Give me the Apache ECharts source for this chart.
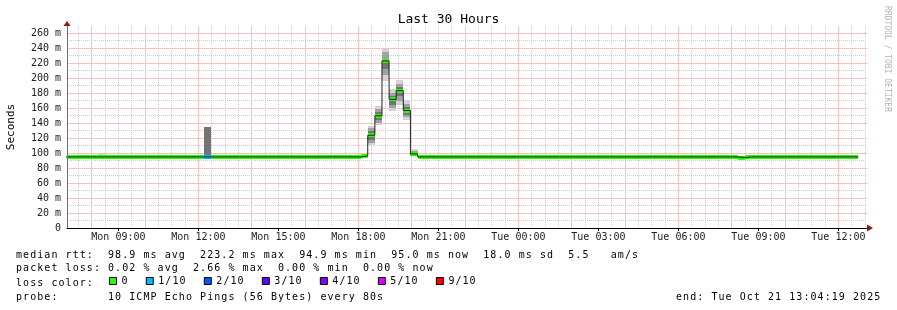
<!DOCTYPE html>
<html><head><meta charset="utf-8">
<script src="https://cdn.jsdelivr.net/npm/echarts@6/dist/echarts.min.js"></script>
<style>html,body{margin:0;padding:0;background:#fff}#c{width:897px;height:310px}</style>
</head><body><div id="c"></div>
<script>
// ---- data (time in hours since Mon 00:00) ----
const xMin = 7 + 4 / 60 + 19 / 3600;      // Mon 07:04:19
const xMax = xMin + 30;                    // Tue 13:04:19
const firstSampleStart = 6 + 53 / 60;      // first 16-min sample start
const stepHours = 16 / 60;
const tickHours = [9, 12, 15, 18, 21, 24, 27, 30, 33, 36];
const tickLabels = ['Mon 09:00', 'Mon 12:00', 'Mon 15:00', 'Mon 18:00', 'Mon 21:00',
  'Tue 00:00', 'Tue 03:00', 'Tue 06:00', 'Tue 09:00', 'Tue 12:00'];
const yLabelValues = [0, 20, 40, 60, 80, 100, 120, 140, 160, 180, 200, 220, 240, 260];
const yMajorLines = [20, 40, 60, 80, 100, 120, 140, 160, 180, 200, 220, 240, 260];
const yMinorLines = [10, 30, 50, 70, 90, 110, 130, 150, 170, 190, 210, 230, 250];
const xMajorLines = [8, 10, 12, 14, 16, 18, 20, 22, 24, 26, 28, 30, 32, 34, 36];
const xMinorLines = [7.5, 8.5, 9, 9.5, 10.5, 11, 11.5, 12.5, 13, 13.5, 14.5, 15, 15.5, 16.5, 17, 17.5,
  18.5, 19, 19.5, 20.5, 21, 21.5, 22.5, 23, 23.5, 24.5, 25, 25.5, 26.5, 27, 27.5, 28.5, 29, 29.5,
  30.5, 31, 31.5, 32.5, 33, 33.5, 34.5, 35, 35.5, 36.5, 37];

// median rtt per 16-min sample (ms)
const median = [
  95, 95, 95, 95, 95, 95, 95, 95, 95, 95, 95, 95, 95, 95, 95, 95,
  95, 95, 95, 95, 95, 95, 95, 95, 95, 95, 95, 95, 95, 95, 95, 95,
  95, 95, 95, 95, 95, 95, 95, 95, 95, 95, 96.3, 124, 150, 223.2, 172, 183.5,
  157, 99, 95, 95, 95, 95, 95, 95, 95, 95, 95, 95, 95, 95, 95, 95,
  95, 95, 95, 95, 95, 95, 95, 95, 95, 95, 95, 95, 95, 95, 95, 95,
  95, 95, 95, 95, 95, 95, 95, 95, 95, 95, 95, 95, 95, 95, 95, 94.2,
  95, 95, 95, 95, 95, 95, 95, 95, 95, 95, 95, 95, 95, 95, 95, 95
];
// loss level index per sample (0 -> "0", 1 -> "1/10", ...)
const lossLevel = [
  0, 0, 0, 0, 0, 0, 0, 0, 0, 0, 0, 0, 0, 0, 0, 0,
  0, 0, 0, 0, 1, 0, 0, 0, 0, 0, 0, 0, 0, 0, 0, 0,
  0, 0, 0, 0, 0, 0, 0, 0, 0, 0, 0, 0, 0, 0, 0, 0,
  0, 0, 0, 0, 0, 0, 0, 0, 0, 0, 0, 0, 0, 0, 0, 0,
  0, 0, 0, 0, 0, 0, 0, 0, 0, 0, 0, 0, 0, 0, 0, 0,
  0, 0, 0, 0, 0, 0, 0, 0, 0, 0, 0, 0, 0, 0, 0, 0,
  0, 0, 0, 0, 0, 0, 0, 0, 0, 0, 0, 0, 0, 0, 0, 0
];
// smoke (ping spread) for samples that show it
const smokeSample = [5, 20, 43, 44, 45, 46, 47, 48, 49];
const outerLo = [95, null, 111, 138, 196, 156, 165, 145, 96.5];
const outerHi = [98.5, null, 137, 163, 239, 186, 198, 171, 105];
const midLo = [null, null, 114, 141, 205, 160, 170, 148, 97.5];
const midHi = [null, null, 134, 159, 235, 181, 193, 166, 103];
const innerLo = [null, 95, 118, 145, 212, 164, 176, 151, 98.5];
const innerHi = [null, 134.5, 129, 155, 226, 176, 188, 162, 101.5];

const lossNames = ['0', '1/10', '2/10', '3/10', '4/10', '5/10', '9/10'];
const lossColors = ['#26ff00', '#00b8ff', '#0059ff', '#5e00ff', '#7e00ff', '#dd00ff', '#ff0000'];

const statLines = [
  'median rtt:  98.9 ms avg  223.2 ms max  94.9 ms min  95.0 ms now  18.0 ms sd  5.5   am/s',
  'packet loss: 0.02 % avg  2.66 % max  0.00 % min  0.00 % now',
  'loss color:',
  'probe:       10 ICMP Echo Pings (56 Bytes) every 80s'
];
const endText = 'end: Tue Oct 21 13:04:19 2025';

// ---- styling ----
const MONO = '"DejaVu Sans Mono", monospace';
const CELL = 7.08;
const bandHalf = 2.7;
const MAJOR = '#f29494', MINOR = '#cdcdcd';
const richMono = { c: { width: CELL, fontFamily: MONO, fontSize: 10, fontWeight: 'normal', color: '#000', lineHeight: 14 } };
function mono(s) { return s.split('').map(ch => '{c|' + ch + '}').join(''); }

function rectRender(color) {
  return function (params, api) {
    const a = api.coord([api.value(0), api.value(3)]);
    const b = api.coord([api.value(1), api.value(2)]);
    const x0 = Math.round(a[0]), x1 = Math.round(b[0]);
    const y0 = Math.round(a[1]), y1 = Math.round(b[1]);
    const cs = params.coordSys;
    const shape = echarts.graphic.clipRectByRect(
      { x: x0, y: y0, width: x1 - x0, height: Math.max(1, y1 - y0) },
      { x: cs.x, y: cs.y, width: cs.width, height: cs.height });
    return shape && { type: 'rect', shape: shape, style: { fill: color } };
  };
}
function vGridRender(color, dash) {
  return function (params, api) {
    const cs = params.coordSys;
    const x = Math.floor(api.coord([api.value(0), 0])[0]) + 0.5;
    return { type: 'line', shape: { x1: x, y1: cs.y, x2: x, y2: cs.y + cs.height },
      style: { stroke: color, lineWidth: 1, lineDash: dash } };
  };
}
function hGridRender(color, dash) {
  return function (params, api) {
    const cs = params.coordSys;
    const y = Math.floor(api.coord([xMin, api.value(1)])[1]) + 0.5;
    return { type: 'line', shape: { x1: cs.x, y1: y, x2: cs.x + cs.width, y2: y },
      style: { stroke: color, lineWidth: 1, lineDash: dash } };
  };
}
function smokeData(lo, hi) {
  const out = [];
  smokeSample.forEach((k, j) => {
    if (lo[j] != null) {
      const t = firstSampleStart + k * stepHours;
      out.push([t, t + stepHours, lo[j], hi[j]]);
    }
  });
  return out;
}
const smokeLayers = [[outerLo, outerHi, '#d2d2d2'], [midLo, midHi, '#a2a2a2'], [innerLo, innerHi, '#747474']];

const series = [];
series.push({ type: 'custom', name: 'vminor', silent: true, renderItem: vGridRender(MINOR, [1, 1]),
  data: xMinorLines.map(v => [v, 0]) });
series.push({ type: 'custom', name: 'hminor', silent: true, renderItem: hGridRender(MINOR, [1, 1]),
  data: yMinorLines.map(v => [xMin, v]) });
series.push({ type: 'custom', name: 'vmajor', silent: true, renderItem: vGridRender('#f6c2c2', null),
  data: xMajorLines.map(v => [v, 0]) });
series.push({ type: 'custom', name: 'hmajor', silent: true, renderItem: hGridRender('#f6c2c2', null),
  data: yMajorLines.map(v => [xMin, v]) });
smokeLayers.forEach((L, i) => {
  series.push({
    type: 'custom', name: 'smoke' + i, silent: true, renderItem: rectRender(L[2]),
    encode: { x: [0, 1], y: [2, 3] }, data: smokeData(L[0], L[1])
  });
});
const medLine = median.map((v, k) => [firstSampleStart + k * stepHours, v]);
medLine.push([firstSampleStart + median.length * stepHours, median[median.length - 1]]);
series.push({
  type: 'line', name: 'median', step: 'end', data: medLine, symbol: 'none', silent: true,
  lineStyle: { color: '#202020', width: 1 }
});
lossNames.forEach((nm, li) => {
  const d = [];
  median.forEach((v, k) => {
    if (lossLevel[k] === li) {
      const t = firstSampleStart + k * stepHours;
      d.push([t, t + stepHours, v - bandHalf, v + bandHalf]);
    }
  });
  series.push({
    type: 'custom', name: nm, silent: true, renderItem: rectRender(lossColors[li]),
    itemStyle: { color: lossColors[li] }, encode: { x: [0, 1], y: [2, 3] }, data: d
  });
});

const chart = echarts.init(document.getElementById('c'), null, { renderer: 'canvas' });
chart.setOption({
  animation: false,
  backgroundColor: '#fff',
  grid: { left: 67, right: 30, top: 26, bottom: 82, containLabel: false, outerBoundsMode: 'none' },
  title: [
    { text: 'Last 30 Hours', left: 'center', top: 12, padding: 0,
      textStyle: { fontFamily: MONO, fontSize: 13, fontWeight: 'normal', color: '#000', lineHeight: 16 } },
    { text: mono(statLines[0]), left: 16, top: 248, padding: 0, textStyle: { fontWeight: 'normal', rich: richMono } },
    { text: mono(statLines[1]), left: 16, top: 261, padding: 0, textStyle: { fontWeight: 'normal', rich: richMono } },
    { text: mono(statLines[2]), left: 16, top: 276, padding: 0, textStyle: { fontWeight: 'normal', rich: richMono } },
    { text: mono(statLines[3]), left: 16, top: 290, padding: 0, textStyle: { fontWeight: 'normal', rich: richMono } },
    { text: mono(endText), left: 676, top: 290, padding: 0, textStyle: { fontWeight: 'normal', rich: richMono } }
  ],
  legend: {
    data: lossNames, left: 109, top: 276, padding: 0, orient: 'horizontal',
    itemWidth: 7, itemHeight: 7, itemGap: 17.2, icon: 'rect', selectedMode: false,
    itemStyle: { borderColor: '#000', borderWidth: 1 },
    formatter: n => mono(n), textStyle: { fontWeight: 'normal', rich: richMono }
  },
  graphic: [
    { type: 'text', x: 11, y: 127, rotation: Math.PI / 2,
      style: { text: 'Seconds', fontFamily: MONO, fontSize: 11, fill: '#000', align: 'center', verticalAlign: 'middle' } },
    { type: 'text', x: 887, y: 59, rotation: -Math.PI / 2,
      style: { text: 'RRDTOOL / TOBI OETIKER', fontFamily: MONO, fontSize: 8, fill: '#b4b4b4', align: 'center', verticalAlign: 'middle' } }
  ],
  xAxis: [
    { type: 'value', min: xMin, max: xMax, position: 'bottom', z: 5,
      axisLine: { show: true, lineStyle: { color: '#000', width: 1 } },
      axisTick: { show: true, customValues: tickHours, length: 3, lineStyle: { color: '#000' } },
      axisLabel: { customValues: tickHours, formatter: v => tickLabels[tickHours.indexOf(v)],
        fontFamily: MONO, fontSize: 10, color: '#222', margin: 4 },
      splitLine: { show: false } },
    { type: 'value', min: xMin, max: xMax, position: 'bottom', z: 5,
      axisLine: { show: true, symbol: ['none', 'triangle'], symbolSize: [7, 6], symbolOffset: [0, 3],
        lineStyle: { color: '#8b1a1a', width: 0 } },
      axisTick: { show: false }, axisLabel: { show: false }, splitLine: { show: false } }
  ],
  yAxis: [
    { type: 'value', min: 0, max: 270, position: 'left', z: 5,
      axisLine: { show: true, lineStyle: { color: '#707070', width: 1 } },
      axisTick: { show: false, customValues: yLabelValues },
      axisLabel: { customValues: yLabelValues, formatter: v => (v === 0 ? '0' : v + ' m'),
        fontFamily: MONO, fontSize: 10, color: '#222', margin: 6 },
      splitLine: { show: false } },
    { type: 'value', min: 0, max: 270, position: 'left', z: 5,
      axisLine: { show: true, symbol: ['none', 'triangle'], symbolSize: [7, 5], symbolOffset: [0, 2.5],
        lineStyle: { color: '#8b1a1a', width: 0 } },
      axisTick: { show: false }, axisLabel: { show: false }, splitLine: { show: false } }
  ],
  series: series
});
</script></body></html>
